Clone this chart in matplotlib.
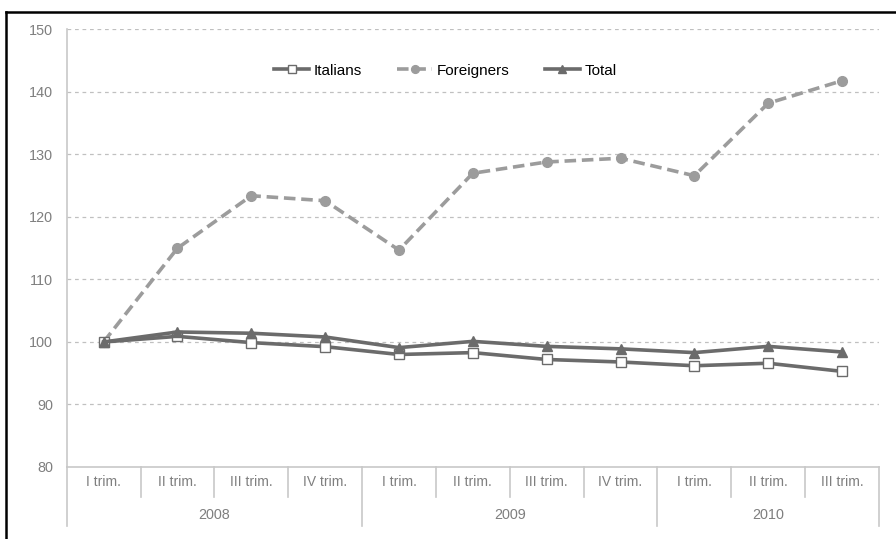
import matplotlib
matplotlib.use("Agg")
import matplotlib.pyplot as plt
from matplotlib.lines import Line2D
import matplotlib.transforms as mtransforms

plt.rcParams['font.family'] = ['Liberation Sans', 'DejaVu Sans']

quarters = ["I trim.", "II trim.", "III trim.", "IV trim.",
            "I trim.", "II trim.", "III trim.", "IV trim.",
            "I trim.", "II trim.", "III trim."]
years = ["2008", "2009", "2010"]
year_counts = [4, 4, 3]

italians = [100.0, 100.9, 99.9, 99.25, 98.0, 98.3, 97.2, 96.8, 96.2, 96.6, 95.3]
foreigners = [100.0, 115.0, 123.4, 122.6, 114.7, 127.0, 128.8, 129.4, 126.6, 138.2, 141.8]
total = [100.0, 101.6, 101.4, 100.8, 99.1, 100.1, 99.3, 98.9, 98.3, 99.3, 98.4]

yticks = [80, 90, 100, 110, 120, 130, 140, 150]

dark = "#6b6b6b"
light = "#9c9c9c"
tickc = "#7f7f7f"
gridc = "#c0c0c0"

fig = plt.figure(figsize=(8.96, 5.39), dpi=100)
ax = fig.add_axes([0.0744, 0.1336, 0.9066, 0.8117])

n = len(quarters)
x = list(range(n))
ax.set_xlim(-0.5, n - 0.5)
ax.set_ylim(80, 150)

l1, = ax.plot(x, italians, color=dark, lw=2.6, marker='s', ms=7.5,
              mfc='white', mec=dark, mew=1.0, label='Italians', zorder=4)
l2, = ax.plot(x, foreigners, color=light, lw=2.6, ls=(0, (3.2, 1.6)), marker='o',
              ms=7, mfc=light, mec=light, label='Foreigners', zorder=3)
l3, = ax.plot(x, total, color=dark, lw=2.6, marker='^', ms=7.5,
              mfc=dark, mec=dark, label='Total', zorder=5)

ax.set_yticks(yticks)
ax.set_yticklabels([str(v) for v in yticks], color=tickc, fontsize=10.4)
ax.tick_params(axis='y', length=0, pad=10)
ax.set_xticks([])
for v in yticks[1:]:
    ax.axhline(v, color=gridc, lw=0.9, ls=(0, (3, 3)), zorder=1)

for s in ['top', 'right']:
    ax.spines[s].set_visible(False)
for s in ['left', 'bottom']:
    ax.spines[s].set_color('#c8c8c8')
    ax.spines[s].set_linewidth(1.2)

# category axis below
trans = mtransforms.blended_transform_factory(ax.transData, ax.transAxes)
ax_h_px = 0.8117 * 539
q_bot = -30 / ax_h_px
y_bot = -59 / ax_h_px
q_lab = -15 / ax_h_px
y_lab = -48 / ax_h_px
for i, q in enumerate(quarters):
    ax.text(i, q_lab, q, transform=trans, ha='center', va='center',
            color=tickc, fontsize=10)
boundaries = [-0.5]
acc = -0.5
for c in year_counts:
    acc += c
    boundaries.append(acc)
for i in range(n + 1):
    b = i - 0.5
    ybot = y_bot if b in boundaries else q_bot
    ax.add_line(Line2D([b, b], [0, ybot], transform=trans, color='#c8c8c8',
                       lw=1.2, clip_on=False))
for j, yr in enumerate(years):
    c = (boundaries[j] + boundaries[j + 1]) / 2
    ax.text(c, y_lab, yr, transform=trans, ha='center', va='center',
            color=tickc, fontsize=10.4)

leg = fig.legend(handles=[l1, l2, l3], loc='center', bbox_to_anchor=(0.497, 0.869),
                 ncol=3, frameon=False, fontsize=11, handlelength=2.3,
                 handletextpad=0.3, columnspacing=2.3, borderaxespad=0,
                 markerscale=0.8)

# outer border (left and top)
fig.add_artist(Line2D([6 / 896, 6 / 896], [0, 1 - 12 / 539], transform=fig.transFigure,
                      color='black', lw=1.8))
fig.add_artist(Line2D([6 / 896, 1], [1 - 12 / 539, 1 - 12 / 539], transform=fig.transFigure,
                      color='black', lw=1.8))

fig.savefig("out.png", dpi=100)
